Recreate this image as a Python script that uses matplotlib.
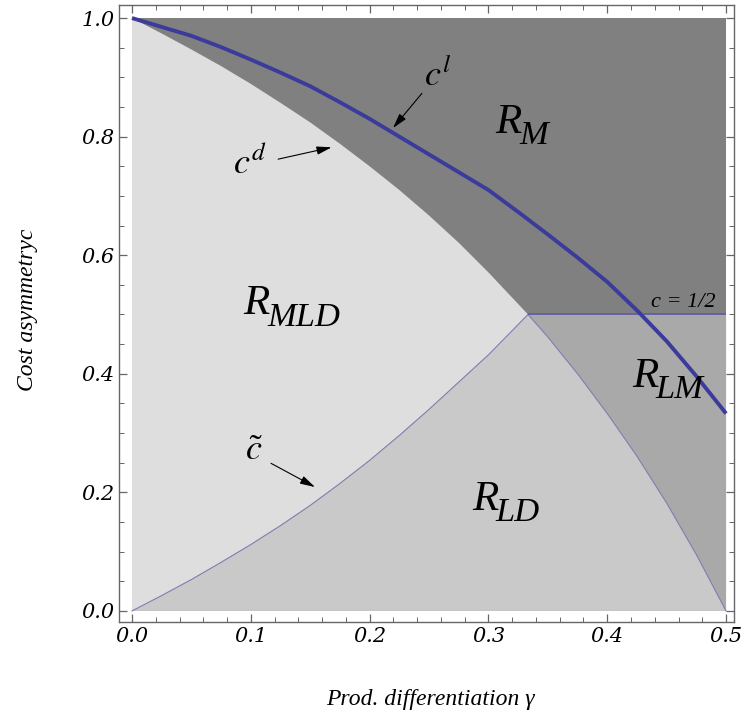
import matplotlib
matplotlib.use("Agg")
import matplotlib.pyplot as plt
import numpy as np

plt.rcParams["mathtext.fontset"] = "stix"

# Product differentiation grid and boundary curves (c as function of gamma)
gamma_d = [0.0, 0.025, 0.05, 0.075, 0.10, 0.125, 0.15, 0.175, 0.20, 0.225, 0.25,
           0.275, 0.30, 1/3, 0.35, 0.375, 0.40, 0.425, 0.45, 0.475, 0.50]
c_d = [1.0, 0.974, 0.947, 0.919, 0.889, 0.857, 0.824, 0.788, 0.750, 0.710, 0.667,
       0.621, 0.571, 0.500, 0.462, 0.400, 0.333, 0.261, 0.182, 0.095, 0.0]
JUNCTION = 13  # index where c^d meets c = 1/2

gamma_l = [0.0, 0.025, 0.05, 0.075, 0.10, 0.125, 0.15, 0.175, 0.20, 0.225, 0.25,
           0.275, 0.30, 0.325, 0.35, 0.375, 0.40, 0.425, 0.45, 0.475, 0.50]
c_l = [1.0, 0.985, 0.970, 0.951, 0.930, 0.908, 0.885, 0.858, 0.830, 0.800, 0.770,
       0.740, 0.710, 0.673, 0.635, 0.596, 0.555, 0.507, 0.455, 0.396, 0.333]

gamma_t = [0.0, 0.025, 0.05, 0.075, 0.10, 0.125, 0.15, 0.175, 0.20, 0.225, 0.25,
           0.275, 0.30, 1/3]
c_t = [0.0, 0.026, 0.053, 0.082, 0.112, 0.144, 0.178, 0.215, 0.254, 0.296, 0.340,
       0.386, 0.432, 0.500]

c_half = 0.5

xticks = [0.0, 0.1, 0.2, 0.3, 0.4, 0.5]
yticks = [0.0, 0.2, 0.4, 0.6, 0.8, 1.0]

col_M = "#808080"
col_MLD = "#dedede"
col_LD = "#c9c9c9"
col_LM = "#a9a9a9"
col_edge = "#8080b4"
col_cl = "#3b3b9c"
SERIF = "Liberation Serif"

fig = plt.figure(figsize=(7.44, 7.24), dpi=100)
ax = fig.add_axes([0.16, 0.141, 0.8266, 0.852])
ax.set_xlim(-0.0109, 0.5067)
ax.set_ylim(-0.0185, 1.0219)

# background: monopoly region R_M
ax.fill([0, 0.5, 0.5, 0], [0, 0, 1, 1], color=col_M, lw=0, zorder=1)

gd = np.array(gamma_d)
cd = np.array(c_d)
gt = np.array(gamma_t)
ct = np.array(c_t)

# R_MLD: between c-tilde and upper branch of c^d
ax.fill(np.r_[gt, gd[:JUNCTION + 1][::-1]], np.r_[ct, cd[:JUNCTION + 1][::-1]],
        color=col_MLD, lw=0, zorder=2)
# R_LD: below c-tilde and lower branch of c^d
ax.fill(np.r_[gt, gd[JUNCTION:]], np.r_[ct, cd[JUNCTION:]],
        color=col_LD, lw=0, zorder=2)
# R_LM: right of c^d below c = 1/2
ax.fill(np.r_[gd[JUNCTION], 0.5, gd[JUNCTION:][::-1]],
        np.r_[c_half, c_half, cd[JUNCTION:][::-1]],
        color=col_LM, lw=0, zorder=2)

ax.plot(gt, ct, color=col_edge, lw=0.8, zorder=3)
ax.plot(gd[JUNCTION:], cd[JUNCTION:], color=col_edge, lw=0.8, zorder=3)
ax.hlines(c_half, gd[JUNCTION], 0.5, color="#5c5ca4", lw=1.2, zorder=3)
ax.plot(gamma_l, c_l, color=col_cl, lw=2.8, zorder=4, solid_capstyle="butt")


def region_label(x, y, sub, size=31):
    """Italic R with a large subscript, baseline at (x, y) in data units."""
    t = ax.text(x, y, "R", fontsize=size, family=SERIF, style="italic",
                ha="left", va="baseline", zorder=5)
    ax.annotate(sub, xy=(1, 0), xycoords=t, xytext=(-2, -size * 0.05),
                textcoords="offset points", fontsize=size * 0.8, family=SERIF,
                style="italic", ha="left", va="baseline", zorder=5)


region_label(0.306, 0.806, "M")
region_label(0.094, 0.500, "MLD")
region_label(0.286, 0.170, "LD")
region_label(0.421, 0.378, "LM")
ax.text(0.437, 0.505, "c = 1/2", fontsize=16, family=SERIF,
        style="italic", ha="left", va="bottom", zorder=5)

# curve labels with arrows
arr = dict(arrowstyle="-|>,head_length=0.9,head_width=0.25", color="black",
           lw=0.8, shrinkA=0, shrinkB=0)
ax.annotate("", xy=(0.2197, 0.8145), xytext=(0.244, 0.873), arrowprops=arr, zorder=5)
ax.text(0.257, 0.905, r"$c^l$", fontsize=26, ha="center", va="center", zorder=5)
ax.annotate("", xy=(0.168, 0.782), xytext=(0.123, 0.762), arrowprops=arr, zorder=5)
ax.text(0.099, 0.757, r"$c^d$", fontsize=26, ha="center", va="center", zorder=5)
ax.annotate("", xy=(0.154, 0.209), xytext=(0.117, 0.249), arrowprops=arr, zorder=5)
ax.text(0.103, 0.272, r"$\tilde{c}$", fontsize=26, ha="center", va="center", zorder=5)

# frame and ticks
for s in ax.spines.values():
    s.set_color("#666666")
    s.set_linewidth(1.0)
ax.set_xticks(xticks)
ax.set_yticks(yticks)
ax.set_xticks(np.arange(0, 0.5001, 0.02), minor=True)
ax.set_yticks(np.arange(0, 1.0001, 0.05), minor=True)
ax.tick_params(which="both", direction="in", top=True, right=True, color="#666666")
ax.tick_params(which="major", length=6, width=0.9)
ax.tick_params(which="minor", length=3.5, width=0.7)
ax.set_xticklabels([f"{v:.1f}" for v in xticks])
ax.set_yticklabels([f"{v:.1f}" for v in yticks])
for t in ax.get_xticklabels() + ax.get_yticklabels():
    t.set_family("DejaVu Serif")
    t.set_style("italic")
    t.set_fontsize(15)

fig.text(430 / 744, 1 - 700 / 724, "Prod. differentiation \u03b3", fontsize=17,
         family=SERIF, style="italic", ha="center", va="center")
fig.text(27 / 744, 1 - 310 / 724, "Cost asymmetryc", fontsize=17, rotation=90,
         family=SERIF, style="italic", ha="center", va="center")

fig.savefig("out.png", dpi=100)
